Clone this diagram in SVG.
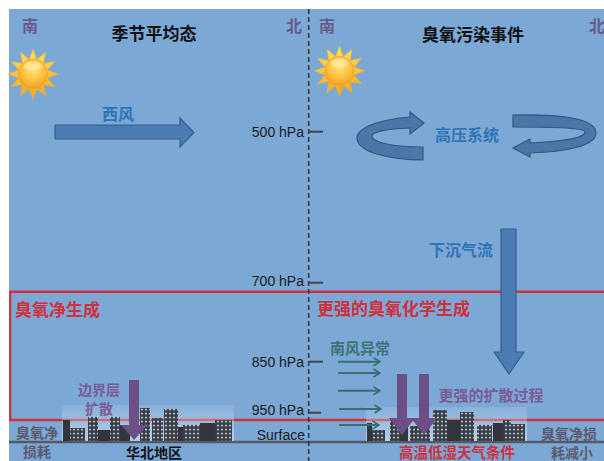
<svg xmlns="http://www.w3.org/2000/svg" width="604" height="461" viewBox="0 0 604 461">
  <style>
    .cjk { font-family: "Noto Sans CJK SC", "Noto Sans", sans-serif; }
    .lat { font-family: "Liberation Sans", Arial, sans-serif; font-size: 14px; fill: #1a1a1a; }
    .title { font-size: 17px; font-weight: bold; fill: #111; }
    .dir { font-size: 16px; font-weight: bold; fill: #6a5a8c; }
    .blue { font-size: 16px; font-weight: bold; fill: #2f74b5; }
    .red { font-size: 17px; font-weight: bold; fill: #d0303c; }
    .purple { font-size: 15px; font-weight: bold; fill: #7a5b94; }
    .teal { font-size: 15px; font-weight: bold; fill: #3d7377; }
    .gray { font-size: 14px; font-weight: bold; fill: #5c5a6e; }
    .small { font-size: 14px; }
    .tick { stroke: #444; stroke-width: 2; }
    .bigArrow { fill: #4a7bb2; stroke: #35608f; stroke-width: 1.2; }
    .ring { fill: #4a76a8; stroke: #33577f; stroke-width: 1.2; }
    .pArrow { fill: #6c4f86; }
    .wind { stroke: #33706f; stroke-width: 2; fill: none; marker-end: url(#tealHead); }
    .bld { fill: url(#win); }
    .bldDark { fill: #33363d; }
  </style>
  <defs>
    <radialGradient id="sunDisk" cx="0.5" cy="0.35" r="0.65">
      <stop offset="0" stop-color="#ffe27a"/>
      <stop offset="0.6" stop-color="#fbc040"/>
      <stop offset="1" stop-color="#f2a021"/>
    </radialGradient>
    <linearGradient id="sunRays" x1="0" y1="0" x2="0" y2="1">
      <stop offset="0" stop-color="#ffe45c"/>
      <stop offset="1" stop-color="#f5a51e"/>
    </linearGradient>
    <linearGradient id="haze" x1="0" y1="0" x2="0" y2="1">
      <stop offset="0" stop-color="#cfe2f3" stop-opacity="0.15"/>
      <stop offset="1" stop-color="#dbe9f6" stop-opacity="0.6"/>
    </linearGradient>
    <pattern id="win" width="4" height="4" patternUnits="userSpaceOnUse">
      <rect width="4" height="4" fill="#3b3f47"/>
      <rect x="1" y="0.8" width="2" height="1.6" fill="#b9c3ce"/>
    </pattern>
    <marker id="tealHead" markerWidth="9" markerHeight="10" refX="8" refY="5" orient="auto" markerUnits="userSpaceOnUse">
      <path d="M1.5,1 L8,5 L1.5,9" fill="none" stroke="#33706f" stroke-width="1.6"/>
    </marker>
    <g id="sun">
      <polygon fill="url(#sunRays)" stroke="#f2b233" stroke-width="0.6"
        points="0,-25 3.88,-14.49 12.5,-21.65 10.61,-10.61 21.65,-12.5 14.49,-3.88 25,0 14.49,3.88 21.65,12.5 10.61,10.61 12.5,21.65 3.88,14.49 0,25 -3.88,14.49 -12.5,21.65 -10.61,10.61 -21.65,12.5 -14.49,3.88 -25,0 -14.49,-3.88 -21.65,-12.5 -10.61,-10.61 -12.5,-21.65 -3.88,-14.49"/>
      <circle r="14.5" fill="url(#sunDisk)" stroke="#eea02a" stroke-width="0.8"/>
      <ellipse cx="0" cy="-8" rx="9" ry="4.5" fill="#fff3b8" opacity="0.55"/>
    </g>
  </defs>

  <!-- sky -->
  <rect x="0" y="0" width="604" height="461" fill="#ffffff"/>
  <rect x="9" y="9" width="595" height="452" fill="#7ca8d6"/>

  <!-- layer boundaries -->
  <g id="layers">
    <line x1="9" y1="291.7" x2="604" y2="291.7" stroke="#d0303c" stroke-width="2.5"/>
    <line x1="10.2" y1="291.7" x2="10.2" y2="420" stroke="#d0303c" stroke-width="2.2"/>
    <line x1="9" y1="420" x2="604" y2="420" stroke="#d0303c" stroke-width="2.5"/>
    <line x1="9" y1="442" x2="604" y2="442" stroke="#555a60" stroke-width="2.5"/>
  </g>

  <!-- pressure axis -->
  <g id="axis">
    <line x1="308.7" y1="9" x2="308.7" y2="461" stroke="#3a3a3a" stroke-width="1.6" stroke-dasharray="5,3"/>
    <line class="tick" x1="309" y1="131.7" x2="323" y2="131.7"/>
    <line class="tick" x1="309" y1="282.7" x2="323" y2="282.7"/>
    <line class="tick" x1="309" y1="361.7" x2="323" y2="361.7"/>
    <line class="tick" x1="309" y1="412.7" x2="321" y2="412.7"/>
    <text class="lat" x="304" y="136.5" text-anchor="end">500 hPa</text>
    <text class="lat" x="304" y="285.5" text-anchor="end">700 hPa</text>
    <text class="lat" x="304" y="367" text-anchor="end">850 hPa</text>
    <text class="lat" x="304" y="415" text-anchor="end">950 hPa</text>
    <text class="lat" x="305" y="440" text-anchor="end">Surface</text>
  </g>

  <!-- panel headings -->
  <g id="panel-mean">
    <text class="cjk title" x="154" y="40" text-anchor="middle">季节平均态</text>
    <text class="cjk dir" x="22" y="32">南</text>
    <text class="cjk dir" x="286" y="32">北</text>
    <use href="#sun" x="33" y="74"/>
  </g>
  <g id="panel-event">
    <text class="cjk title" x="473" y="41" text-anchor="middle">臭氧污染事件</text>
    <text class="cjk dir" x="319" y="32">南</text>
    <text class="cjk dir" x="589" y="32">北</text>
    <use href="#sun" x="339.5" y="71"/>
  </g>

  <!-- skylines -->
  <g id="city-north-china">
    <rect x="62" y="405" width="172" height="36" fill="url(#haze)"/>
    <rect class="bldDark" x="63" y="420" width="7" height="21"/>
    <rect class="bld" x="70" y="428" width="15" height="13"/>
    <rect class="bld" x="88" y="417" width="10" height="24"/>
    <rect class="bldDark" x="98" y="430" width="12" height="11"/>
    <rect class="bld" x="110" y="417" width="10" height="24"/>
    <rect class="bldDark" x="120" y="425" width="10" height="16"/>
    <rect class="bld" x="140" y="408" width="10" height="33"/>
    <rect class="bld" x="152" y="418" width="11" height="23"/>
    <rect class="bld" x="164" y="409" width="14" height="32"/>
    <rect class="bldDark" x="178" y="427" width="5" height="14"/>
    <rect class="bld" x="183" y="425" width="17" height="16"/>
    <rect class="bldDark" x="200" y="423" width="15" height="18"/>
    <rect class="bld" x="215" y="420" width="17" height="21"/>
  </g>
  <g id="city-event">
    <rect x="366" y="407" width="161" height="34" fill="url(#haze)"/>
    <rect class="bldDark" x="367" y="423" width="5" height="18"/>
    <rect class="bld" x="372" y="430" width="13" height="11"/>
    <rect class="bld" x="390" y="418" width="10" height="23"/>
    <rect class="bldDark" x="400" y="420" width="8" height="21"/>
    <rect class="bld" x="410" y="426" width="20" height="15"/>
    <rect class="bld" x="433" y="410" width="14" height="31"/>
    <rect class="bldDark" x="447" y="420" width="13" height="21"/>
    <rect class="bld" x="460" y="412" width="14" height="29"/>
    <rect class="bld" x="477" y="425" width="15" height="16"/>
    <rect class="bldDark" x="493" y="423" width="10" height="18"/>
    <rect class="bld" x="503" y="420" width="8" height="21"/>
    <rect class="bld" x="511" y="424" width="14" height="17"/>
  </g>

  <!-- flows -->
  <g id="connectors">
    <polygon id="westerly" class="bigArrow" points="55,125 180,125 180,118 194,132.5 180,147 180,139 55,139"/>
    <path id="anticyclone-west" class="ring" d="M423,160 C390,160 357,152 357,138 C357,126 385,119 410,117 L410,112 L424,123 L410,134 L410,128 C390,129 370,131 372,137 C374,143 395,147 423,147 Z"/>
    <path id="anticyclone-east" class="ring" d="M513,115 C560,114 596,118 596,133 C596,146 565,152 530,153 L530,157 L513,148 L530,139 L530,143 C560,142 585,138 585,132 C585,128 560,127 513,127 Z"/>
    <polygon id="subsidence" class="bigArrow" points="501,229 516,229 516,352 524,352 509,374 494,352 501,352"/>
    <line class="wind" x1="338" y1="361.7" x2="380" y2="361.7"/>
    <line class="wind" x1="338" y1="373" x2="380" y2="373"/>
    <line class="wind" x1="338" y1="390.7" x2="380" y2="390.7"/>
    <line class="wind" x1="339" y1="409" x2="381" y2="409"/>
    <line class="wind" x1="339" y1="425" x2="379" y2="425"/>
    <polygon id="pbl-mix" class="pArrow" points="129,380 139,380 139,425 147,425 134,440 121,425 129,425"/>
    <polygon id="mix-1" class="pArrow" points="397,374 407,374 407,418 415,418 402,435 389,418 397,418"/>
    <polygon id="mix-2" class="pArrow" points="419,374 429,374 429,418 437,418 424,435 411,418 419,418"/>
  </g>

  <!-- labels -->
  <g id="labels">
    <text class="cjk blue" x="102" y="120">西风</text>
    <text class="cjk blue" x="467" y="141" text-anchor="middle">高压系统</text>
    <text class="cjk blue" x="461" y="256" text-anchor="middle">下沉气流</text>
    <text class="cjk red" x="15" y="316">臭氧净生成</text>
    <text class="cjk red" x="317" y="315">更强的臭氧化学生成</text>
    <text class="cjk teal" x="330" y="353.5">南风异常</text>
    <text class="cjk purple small" x="99" y="395" text-anchor="middle">边界层</text>
    <text class="cjk purple small" x="99" y="414" text-anchor="middle">扩散</text>
    <text class="cjk purple" x="491" y="401" text-anchor="middle">更强的扩散过程</text>
    <text class="cjk gray" x="37" y="438" text-anchor="middle">臭氧净</text>
    <text class="cjk gray" x="37" y="457" text-anchor="middle">损耗</text>
    <text class="cjk title" x="154" y="458" text-anchor="middle" style="font-size:14px">华北地区</text>
    <text class="cjk gray" x="569" y="438.5" text-anchor="middle">臭氧净损</text>
    <text class="cjk gray" x="572" y="457.5" text-anchor="middle">耗减小</text>
    <text class="cjk red" x="457" y="458" text-anchor="middle" style="font-size:14.5px">高温低湿天气条件</text>
  </g>
</svg>
